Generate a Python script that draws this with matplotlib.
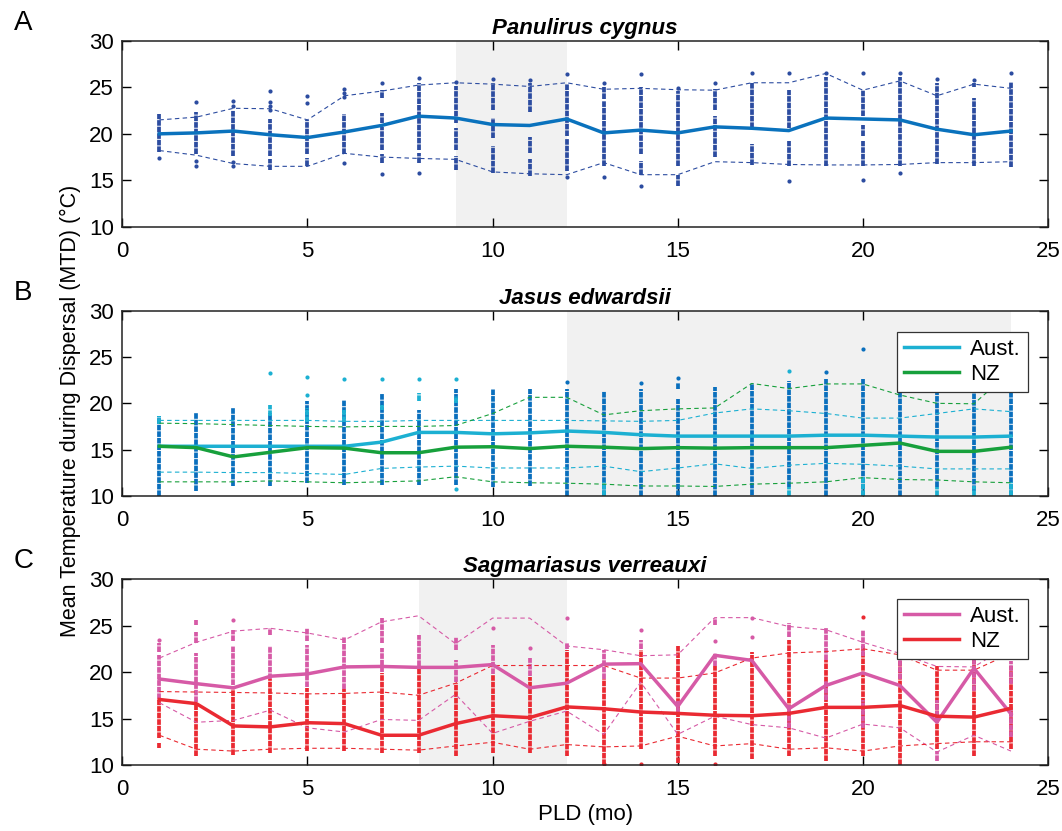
import numpy as np
import matplotlib.pyplot as plt

plt.rcParams['font.family'] = ['Liberation Sans', 'DejaVu Sans']

# -----------------------
# Data
# -----------------------
PLD = list(range(1, 25))

# Panel A - Panulirus cygnus
A_MEAN  = [20.0, 20.1, 20.3, 19.9, 19.6, 20.2, 20.9, 21.9, 21.7, 21.0, 20.9, 21.6,
           20.1, 20.4, 20.1, 20.75, 20.6, 20.35, 21.7, 21.6, 21.5, 20.5, 19.9, 20.3]
A_UPPER = [21.5, 21.8, 22.75, 22.7, 21.5, 24.1, 24.6, 25.25, 25.5, 25.35, 25.1, 25.5,
           24.8, 24.9, 24.75, 24.7, 25.5, 25.5, 26.5, 24.7, 25.7, 24.1, 25.35, 24.9]
A_LOWER = [18.2, 17.7, 16.8, 16.5, 16.5, 17.9, 17.5, 17.35, 17.25, 15.9, 15.7, 15.6,
           16.9, 15.6, 15.6, 17.0, 16.9, 16.7, 16.65, 16.65, 16.7, 16.9, 16.9, 17.0]
A_SPANS = [[(18.0, 22.1)], [(17.8, 22.3)], [(17.6, 22.6)], [(17.6, 21.6), (16.1, 17.25)],
           [(17.8, 21.5), (16.5, 17.4)], [(17.8, 22.1)],
           [(23.9, 24.75), (21.2, 22.25), (18.3, 20.75), (16.9, 17.8)],
           [(18.3, 25.5), (16.9, 17.9)], [(21.2, 25.2), (18.3, 20.6), (16.1, 17.6)],
           [(22.6, 25.5), (19.6, 21.7), (15.8, 18.7)], [(22.4, 25.5), (17.9, 19.7), (15.5, 17.25)],
           [(19.8, 25.4), (16.0, 19.4)], [(23.7, 25.0), (16.5, 23.5)], [(17.8, 25.0), (15.6, 17.1)],
           [(16.5, 24.6), (14.4, 15.6)], [(22.6, 24.8), (17.5, 21.9)], [(20.6, 25.5), (16.6, 18.9)],
           [(20.6, 24.7), (16.5, 19.2)], [(16.5, 26.1)], [(21.9, 24.7), (19.8, 20.9), (16.5, 19.2)],
           [(16.5, 26.1)], [(16.7, 25.5)], [(25.0, 25.5), (16.5, 23.9)], [(16.4, 25.6)]]
A_DOTS  = [[17.4], [23.4, 17.1, 16.5], [23.5, 23.0, 17.0, 16.5], [24.6, 23.4, 23.0, 22.6],
           [24.1, 23.3], [24.8, 24.4, 24.0, 16.9], [25.5, 15.7], [26.0, 15.8], [25.6], [25.9],
           [25.8], [26.4, 15.4], [25.5, 15.3], [26.4, 14.4], [24.9], [25.5], [26.6], [26.6, 14.9],
           [26.6], [26.5, 15.0], [26.6, 15.75], [25.9], [25.75], [26.5]]

# Panel B - Jasus edwardsii
B_AUS_MEAN = [15.35, 15.35, 15.35, 15.35, 15.35, 15.35, 15.8, 16.85, 16.85, 16.7, 16.8, 17.0,
              16.85, 16.6, 16.45, 16.45, 16.45, 16.45, 16.55, 16.55, 16.45, 16.35, 16.35, 16.45]
B_NZ_MEAN  = [15.35, 15.2, 14.2, 14.7, 15.2, 15.15, 14.65, 14.65, 15.25, 15.3, 15.1, 15.35,
              15.25, 15.1, 15.2, 15.15, 15.2, 15.2, 15.2, 15.45, 15.7, 14.8, 14.8, 15.25]
B_AUS_UP   = [18.15, 18.15, 18.15, 18.15, 18.15, 18.05, 18.05, 18.15, 18.15, 18.15, 18.15, 18.15,
              18.1, 18.05, 18.15, 18.95, 19.4, 19.2, 18.9, 18.4, 18.4, 18.9, 19.4, 19.1]
B_AUS_LO   = [12.55, 12.55, 12.5, 12.5, 12.4, 12.3, 12.95, 13.1, 13.2, 13.0, 13.0, 13.0,
              13.2, 12.6, 13.0, 13.45, 12.95, 13.3, 13.5, 13.4, 13.2, 12.9, 12.9, 12.9]
B_NZ_UP    = [17.85, 17.8, 17.7, 17.6, 17.5, 17.45, 17.5, 17.5, 17.6, 18.9, 20.65, 20.65,
              18.75, 19.2, 19.4, 19.5, 22.15, 21.6, 22.1, 22.1, 20.9, 20.0, 19.95, 23.5]
B_NZ_LO    = [11.5, 11.5, 11.5, 11.6, 11.5, 11.4, 11.5, 11.6, 12.05, 11.5, 11.4, 11.35,
              11.25, 11.05, 11.05, 11.0, 11.25, 11.35, 11.5, 11.95, 11.75, 11.7, 11.5, 11.4]
B_DARK_SPANS = [[(10.0, 18.6)], [(10.5, 18.9)], [(11.05, 19.5)], [(11.1, 19.0)], [(11.4, 20.2)],
                [(11.2, 20.4)], [(11.2, 21.0)], [(11.2, 19.3)], [(11.2, 21.5)], [(10.9, 21.5)],
                [(11.0, 21.5)], [(10.0, 21.5)], [(10.0, 21.3)], [(10.0, 21.5)],
                [(10.0, 20.5), (21.5, 22.2)], [(10.0, 21.8)], [(10.1, 22.2)], [(10.9, 22.4)],
                [(10.0, 22.6)], [(10.0, 22.6)], [(10.0, 21.5)], [(10.9, 21.5)], [(10.5, 21.5)],
                [(10.0, 21.5)]]
B_DARK_DOTS = [[], [], [], [], [], [], [], [], [], [], [], [22.3], [], [22.2], [22.7], [], [],
               [], [23.4], [25.85], [], [], [], []]
B_CYAN_SPANS = [[(17.8, 18.6)], [], [], [(18.6, 19.8)], [(18.0, 19.5)], [(18.0, 19.3)],
                [(19.3, 19.8)], [(20.2, 21.1)], [(20.0, 20.75)], [], [], [], [(10.0, 11.5)], [],
                [], [], [], [(10.0, 10.9)], [], [(10.0, 12.0)], [], [(10.0, 10.9)],
                [(10.0, 11.0)], [(10.0, 11.5)]]
B_CYAN_DOTS = [[], [], [], [23.25], [22.8, 20.9], [22.6], [22.6], [22.6], [22.6, 10.7], [], [],
               [], [], [], [], [], [], [23.5], [], [], [], [], [], []]

# Panel C - Sagmariasus verreauxi
C_AUS_MEAN = [19.25, 18.75, 18.3, 19.55, 19.8, 20.55, 20.6, 20.5, 20.5, 20.8, 18.3, 18.8,
              20.85, 20.9, 16.3, 21.8, 21.25, 16.05, 18.55, 19.9, 18.55, 14.6, 20.4, 15.5]
C_NZ_MEAN  = [17.05, 16.6, 14.2, 14.1, 14.55, 14.45, 13.2, 13.2, 14.45, 15.3, 15.1, 16.25,
              16.05, 15.7, 15.55, 15.35, 15.3, 15.55, 16.2, 16.2, 16.4, 15.25, 15.15, 16.1]
C_AUS_UP   = [21.5, 23.2, 24.4, 24.7, 24.2, 23.45, 25.4, 26.05, 23.05, 25.8, 25.8, 22.8,
              22.4, 21.75, 21.85, 25.85, 25.85, 24.9, 24.55, 23.2, 22.0, 20.6, 20.55, 23.0]
C_AUS_LO   = [16.7, 14.6, 14.8, 15.9, 14.0, 13.55, 14.9, 14.8, 17.6, 13.4, 14.7, 15.8,
              13.3, 18.9, 13.3, 15.25, 14.35, 14.0, 12.9, 14.4, 14.0, 11.4, 13.2, 11.5]
C_NZ_UP    = [17.9, 17.85, 17.8, 17.75, 17.65, 17.7, 17.85, 17.5, 18.8, 20.7, 20.7, 20.7,
              20.7, 19.35, 19.35, 19.9, 21.5, 22.05, 22.2, 22.5, 21.85, 20.2, 20.2, 22.0]
C_NZ_LO    = [13.2, 11.7, 11.5, 11.7, 11.8, 11.8, 11.7, 11.6, 12.05, 12.45, 11.7, 12.2,
              11.95, 12.05, 13.1, 12.05, 12.3, 11.7, 11.85, 11.5, 12.05, 12.3, 12.5, 12.5]
C_RED_SPANS = [[(12.9, 17.05), (11.85, 12.4)], [(11.0, 16.7)], [(11.1, 18.5)], [(11.3, 19.2)],
               [(11.5, 18.3)], [(11.5, 18.2)], [(11.3, 19.9)], [(11.3, 20.6)], [(11.0, 18.8)],
               [(11.3, 19.7)], [(11.3, 19.5)], [(11.0, 22.4)], [(10.0, 19.2)], [(11.7, 22.4)],
               [(10.25, 22.75)], [(11.0, 20.6)], [(10.6, 22.2)], [(11.0, 23.45)], [(10.4, 21.3)],
               [(11.0, 22.75)], [(10.0, 21.3)], [(11.7, 20.6)], [(11.0, 21.3)], [(11.7, 20.6)]]
C_RED_DOTS  = [[], [], [], [], [], [], [], [], [], [], [], [], [10.1], [10.1], [], [10.1],
               [], [], [], [25.95], [], [], [], []]
C_PINK_SPANS = [[(17.1, 21.85), (22.2, 23.1)], [(16.8, 22.0), (23.1, 24.35), (25.1, 25.6)],
                [(18.6, 22.75), (23.3, 24.5)], [(19.3, 22.75), (24.0, 24.7)],
                [(18.4, 22.9), (23.3, 24.7)], [(18.2, 23.8)], [(20.0, 22.6), (23.1, 25.8)],
                [(20.7, 24.0)], [(18.9, 21.3), (22.4, 23.8)], [(19.8, 22.9)], [(19.6, 21.5)],
                [(22.5, 23.1)], [(19.2, 22.4)], [(22.5, 23.45)], [(15.6, 17.0)],
                [(20.7, 22.0), (25.1, 25.8)], [], [(23.8, 25.25), (14.0, 16.5)],
                [(21.3, 24.7), (17.0, 19.0)], [(21.7, 24.55), (14.0, 17.0)], [(19.2, 21.3)],
                [(14.5, 17.0), (10.4, 11.5)], [(18.0, 21.3)], [(18.7, 21.2), (13.0, 16.0)]]
C_PINK_DOTS  = [[23.45], [], [25.6], [], [], [], [], [], [], [24.7], [22.55], [25.8], [],
                [24.55], [], [23.3], [25.8, 23.8], [], [], [], [], [], [], []]

SHADE = {"A": (9, 12), "B": (12, 24), "C": (8, 12)}

# colours
A_DOT_COL  = "#2c4ca0"
A_LINE_COL = "#0a72bd"
B_AUS_COL  = "#1cb0d2"
B_NZ_COL   = "#17a03c"
B_DARK_COL = "#0a6fbd"
C_AUS_COL  = "#d65aa6"
C_NZ_COL   = "#ea2a32"

FS = 16


def draw_cloud(ax, spans, dots, color, z=2):
    # stacked points -> beaded vertical strokes
    for x, segs, pts in zip(PLD, spans, dots):
        for lo, hi in segs:
            ax.vlines(x, lo, hi, colors=color, lw=2.7, zorder=z,
                      linestyles=[(0, (1.5, 0.25))])
        if pts:
            ax.scatter([x] * len(pts), pts, s=9, color=color, lw=0, zorder=z)


def style_axes(ax, tag, title):
    ax.set_xlim(0, 25)
    ax.set_ylim(10, 30)
    ax.set_xticks(range(0, 26, 5))
    ax.set_yticks(range(10, 31, 5))
    ax.tick_params(direction="in", length=6.5, width=1, labelsize=FS,
                   top=True, right=True, pad=6)
    ax.tick_params(axis="x", pad=10)
    for s in ax.spines.values():
        s.set_linewidth(1.1)
        s.set_color("#222222")
    lo, hi = SHADE[tag]
    ax.axvspan(lo, hi, color="#f1f1f1", lw=0, zorder=0)
    ax.set_title(title, fontsize=FS, fontweight="bold", fontstyle="italic", pad=5)
    pos = ax.get_position()
    fig.text(0.022, pos.y1 + 0.022, tag, fontsize=20, ha="center", va="center")


def bounds(ax, up, lo, color):
    ax.plot(PLD, up, "--", color=color, lw=0.8, dashes=(4, 3), zorder=3)
    ax.plot(PLD, lo, "--", color=color, lw=0.8, dashes=(4, 3), zorder=3)


def add_legend(ax, anchor_y):
    leg = ax.legend(loc="upper right", bbox_to_anchor=(0.978, anchor_y), fontsize=FS,
                    fancybox=False, framealpha=1, edgecolor="#333333", handlelength=2.5,
                    borderpad=0.3, labelspacing=0.2, handletextpad=0.5, borderaxespad=0)
    leg.get_frame().set_linewidth(0.9)
    leg.set_zorder(10)


fig = plt.figure(figsize=(10.62, 8.31), dpi=100)
L, W = 0.1152, 0.8716
axA = fig.add_axes([L, 0.7272, W, 0.2235])
axB = fig.add_axes([L, 0.4035, W, 0.2223])
axC = fig.add_axes([L, 0.0794, W, 0.2238])

# Panel A
style_axes(axA, "A", "Panulirus cygnus")
draw_cloud(axA, A_SPANS, A_DOTS, A_DOT_COL)
bounds(axA, A_UPPER, A_LOWER, A_DOT_COL)
axA.plot(PLD, A_MEAN, color=A_LINE_COL, lw=2.5, zorder=4)

# Panel B
style_axes(axB, "B", "Jasus edwardsii")
draw_cloud(axB, B_DARK_SPANS, B_DARK_DOTS, B_DARK_COL, z=2)
draw_cloud(axB, B_CYAN_SPANS, B_CYAN_DOTS, B_AUS_COL, z=2.5)
bounds(axB, B_AUS_UP, B_AUS_LO, B_AUS_COL)
bounds(axB, B_NZ_UP, B_NZ_LO, B_NZ_COL)
axB.plot(PLD, B_AUS_MEAN, color=B_AUS_COL, lw=2.5, zorder=4, label="Aust.")
axB.plot(PLD, B_NZ_MEAN, color=B_NZ_COL, lw=2.5, zorder=4, label="NZ")
add_legend(axB, 0.886)

# Panel C
style_axes(axC, "C", "Sagmariasus verreauxi")
draw_cloud(axC, C_RED_SPANS, C_RED_DOTS, C_NZ_COL, z=2)
draw_cloud(axC, C_PINK_SPANS, C_PINK_DOTS, C_AUS_COL, z=2.5)
bounds(axC, C_AUS_UP, C_AUS_LO, C_AUS_COL)
bounds(axC, C_NZ_UP, C_NZ_LO, C_NZ_COL)
axC.plot(PLD, C_AUS_MEAN, color=C_AUS_COL, lw=2.5, zorder=4, label="Aust.")
axC.plot(PLD, C_NZ_MEAN, color=C_NZ_COL, lw=2.5, zorder=4, label="NZ")
add_legend(axC, 0.892)

axC.set_xlabel("PLD (mo)", fontsize=FS, labelpad=3)
fig.text(0.066, 0.505, "Mean Temperature during Dispersal (MTD) (\u00b0C)",
         rotation=90, fontsize=15.5, ha="center", va="center")

fig.savefig("out.png", dpi=100)
